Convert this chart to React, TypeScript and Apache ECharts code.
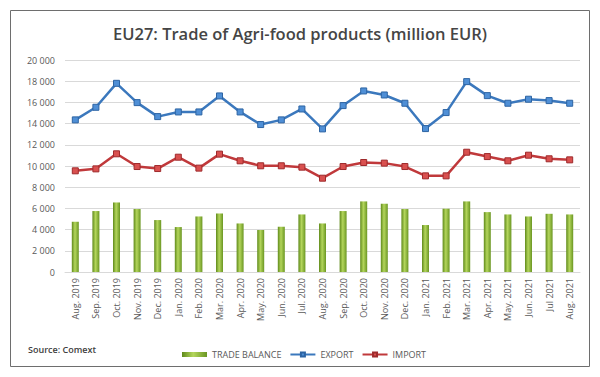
import React, { useEffect, useRef } from "react";
import * as echarts from "echarts";

const categories = [
  "Aug. 2019", "Sep. 2019", "Oct. 2019", "Nov. 2019", "Dec. 2019",
  "Jan. 2020", "Feb. 2020", "Mar. 2020", "Apr. 2020", "May. 2020", "Jun. 2020",
  "Jul. 2020", "Aug. 2020", "Sep. 2020", "Oct. 2020", "Nov. 2020", "Dec. 2020",
  "Jan. 2021", "Feb. 2021", "Mar. 2021", "Apr. 2021", "May. 2021", "Jun. 2021",
  "Jul 2021", "Aug. 2021",
];

const tradeBalance = [
  4740, 5750, 6560, 5940, 4900, 4240, 5240, 5520, 4580, 3960, 4270, 5430, 4580,
  5750, 6660, 6440, 5940, 4430, 5970, 6660, 5650, 5430, 5240, 5490, 5430,
];

const exportValues = [
  14350, 15540, 17800, 15980, 14660, 15100, 15100, 16610, 15100, 13910, 14350,
  15380, 13500, 15700, 17080, 16700, 15920, 13530, 15040, 17960, 16640, 15920,
  16300, 16170, 15920,
];

const importValues = [
  9545, 9730, 11150, 9950, 9760, 10830, 9800, 11120, 10490, 10020, 10020, 9890,
  8850, 9950, 10330, 10270, 9950, 9070, 9070, 11300, 10890, 10490, 11020, 10680,
  10580,
];

const titleText = "EU27: Trade of Agri-food products (million EUR)";
const sourceText = "Source: Comext";

export default function App() {
  const ref = useRef<HTMLDivElement>(null);
  useEffect(() => {
    if (!ref.current) return;
    const chart = echarts.init(ref.current, undefined, { renderer: "svg" });
    const font = "'Open Sans', 'Noto Sans', sans-serif";
    const barGrad = new echarts.graphic.LinearGradient(0, 0, 1, 0, [
      { offset: 0, color: "#5f8a1a" },
      { offset: 0.45, color: "#b4d65c" },
      { offset: 1, color: "#6a9622" },
    ]);
    chart.setOption({
      animation: false,
      backgroundColor: "#ffffff",
      textStyle: { fontFamily: font },
      title: {
        text: titleText,
        left: "center",
        top: 20,
        textStyle: { fontFamily: font, fontSize: 16.5, fontWeight: 600, color: "#454545" },
      },
      grid: { left: 65, right: 20, top: 60, bottom: 105 },
      legend: {
        left: 177,
        top: 345,
        itemWidth: 25,
        itemHeight: 5,
        itemGap: 8,
        textStyle: { fontFamily: font, fontSize: 9, color: "#595959" },
        data: [
          { name: "TRADE BALANCE", icon: "rect" },
          { name: "EXPORT" },
          { name: "IMPORT" },
        ],
      },
      xAxis: {
        type: "category",
        data: categories,
        boundaryGap: true,
        axisLine: { show: true, lineStyle: { color: "#d9d9d9" } },
        axisTick: { show: false },
        axisLabel: { rotate: 90, fontSize: 9, color: "#595959", margin: 6, interval: 0 },
      },
      yAxis: {
        type: "value",
        min: 0,
        max: 20000,
        interval: 2000,
        axisLine: { show: false },
        axisTick: { show: false },
        splitLine: { lineStyle: { color: "#d9d9d9" } },
        axisLabel: {
          fontSize: 9,
          color: "#595959",
          margin: 10,
          formatter: (v: number) => (v >= 1000 ? `${Math.floor(v / 1000)} ${String(v % 1000).padStart(3, "0")}` : String(v)),
        },
      },
      series: [
        {
          name: "TRADE BALANCE",
          type: "bar",
          data: tradeBalance,
          barWidth: 7,
          itemStyle: { color: barGrad },
        },
        {
          name: "EXPORT",
          type: "line",
          data: exportValues,
          symbol: "rect",
          symbolSize: 6,
          lineStyle: { color: "#3b78bd", width: 2.5 },
          itemStyle: { color: "#4f8fd6", borderColor: "#2d64a3", borderWidth: 1 },
        },
        {
          name: "IMPORT",
          type: "line",
          data: importValues,
          symbol: "rect",
          symbolSize: 6,
          lineStyle: { color: "#c0393b", width: 2.5 },
          itemStyle: { color: "#d9504f", borderColor: "#9e2a2c", borderWidth: 1 },
        },
      ],
      graphic: [
        {
          type: "rect",
          shape: { x: 10.5, y: 10.5, width: 579, height: 356 },
          style: { fill: "none", stroke: "#6e6e6e", lineWidth: 1 },
          silent: true,
        },
        {
          type: "text",
          x: 28,
          y: 345,
          style: { text: sourceText, fontFamily: font, fontSize: 9, fontWeight: 600, fill: "#404040" },
        },
      ],
    });
    return () => chart.dispose();
  }, []);
  return (
    <div
      ref={ref}
      style={{ position: "absolute", left: 0, top: 0, width: 600, height: 377 }}
    />
  );
}
